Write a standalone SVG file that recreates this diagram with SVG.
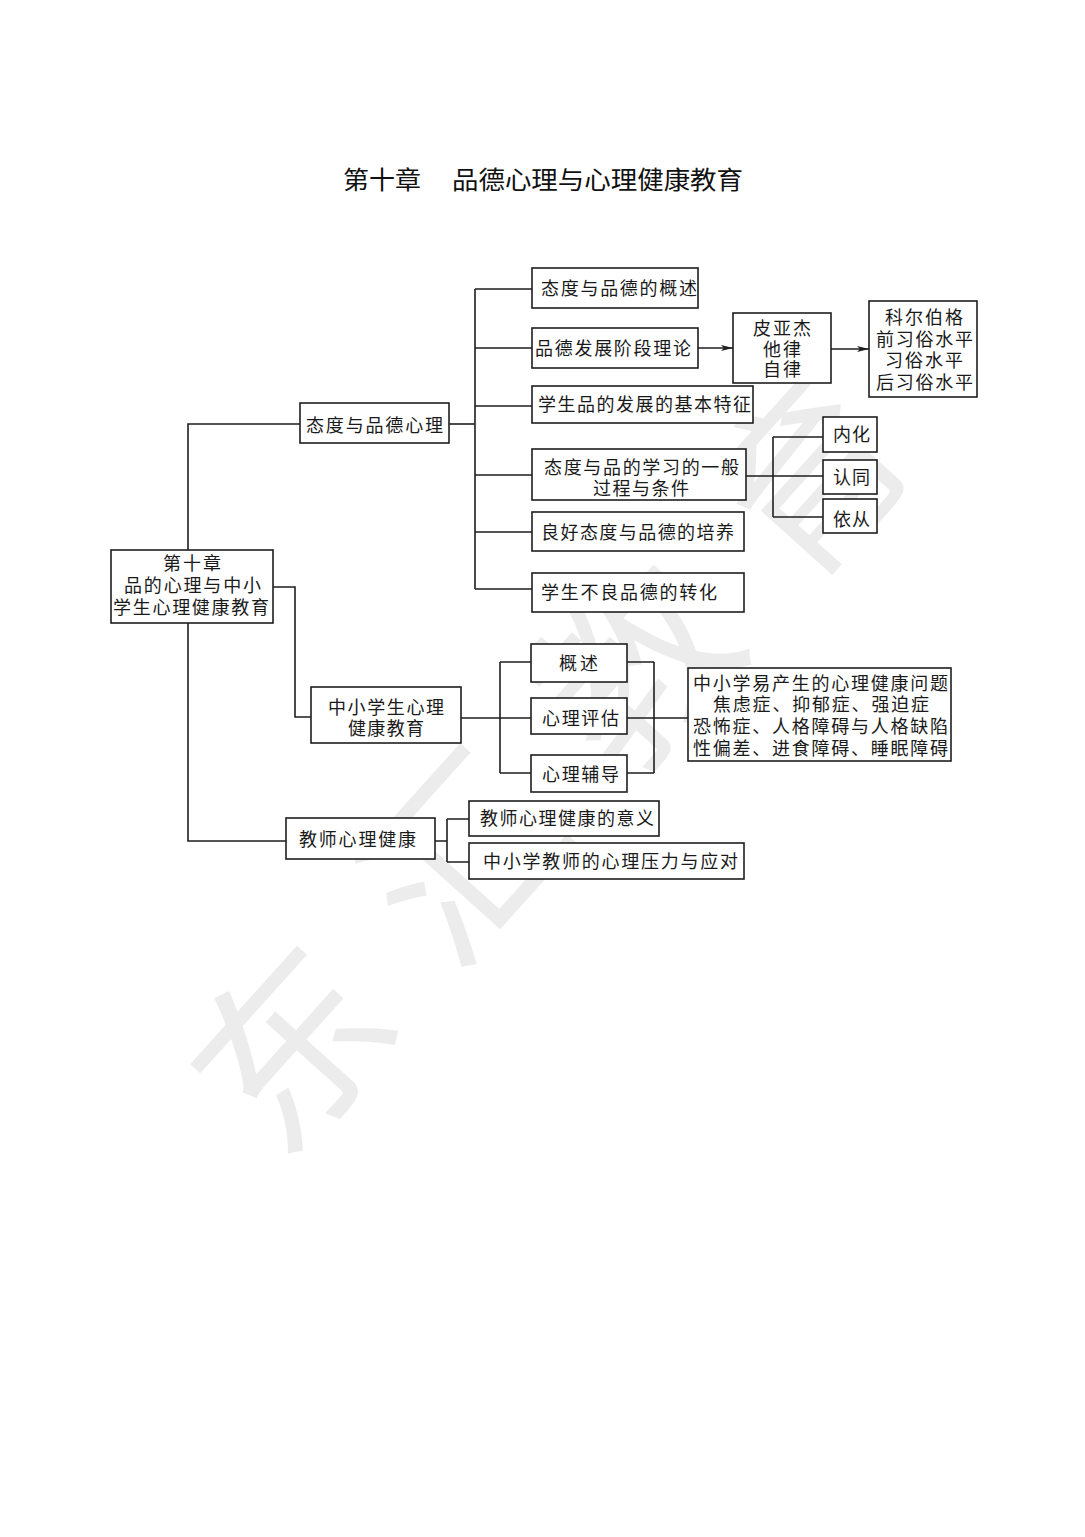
<svg xmlns="http://www.w3.org/2000/svg" width="1085" height="1537" viewBox="0 0 1085 1537">
<style>
.bg{fill:#ffffff}
.wm{font-family:"Noto Sans CJK SC","Noto Sans",sans-serif;font-size:190px;fill:#ececec}
.title{font-family:"Noto Sans CJK SC","Noto Sans",sans-serif;font-size:25px;fill:#111}
.box{fill:#ffffff;stroke:#1e1e1e;stroke-width:1.6}
.t{font-family:"Noto Sans CJK SC","Noto Sans",sans-serif;font-size:18px;fill:#1a1a1a}
.ln{fill:none;stroke:#1e1e1e;stroke-width:1.6}
</style>
<defs>
<marker id="ah" viewBox="0 0 12 6" refX="12" refY="3" markerWidth="12" markerHeight="6" markerUnits="userSpaceOnUse" orient="auto">
<path d="M0,0 L12,3 L0,6 L3,3 Z" fill="#1e1e1e"/>
</marker>
</defs>
<rect class="bg" x="0" y="0" width="1085" height="1537"/>
<g id="watermark" transform="translate(548,760) rotate(-48)">
<text class="wm" x="0" y="72" text-anchor="middle" textLength="960" lengthAdjust="spacing">东汇教育</text>
</g>
<g id="title">
<text class="title" x="343" y="189" textLength="78" lengthAdjust="spacingAndGlyphs">第十章</text>
<text class="title" x="452" y="189" textLength="291" lengthAdjust="spacingAndGlyphs">品德心理与心理健康教育</text>
</g>
<g id="connectors">
<path class="ln" d="M188 550 V424 H300"/>
<path class="ln" d="M449 424 H475"/>
<path class="ln" d="M475 289 V589"/>
<path class="ln" d="M475 289 H532 M475 348 H532 M475 406 H532 M475 475 H532 M475 532 H532 M475 589 H532"/>
<path class="ln" d="M698 348 H733" marker-end="url(#ah)"/>
<path class="ln" d="M831 349 H869" marker-end="url(#ah)"/>
<path class="ln" d="M746 476 H823 M773 437 V517 M773 437 H823 M773 517 H823"/>
<path class="ln" d="M273 587 H295 V717 H311"/>
<path class="ln" d="M188 623 V841 H286"/>
<path class="ln" d="M461 718 H531 M500 662 V773 M500 662 H531 M500 773 H531"/>
<path class="ln" d="M627 662 H654 M627 773 H654 M654 662 V773 M627 718 H688"/>
<path class="ln" d="M435 841 H447 M447 819 V862 M447 819 H469 M447 862 H469"/>
</g>
<g id="root">
<rect class="box" x="111" y="550" width="162" height="73"/>
<text class="t" x="163" y="570" textLength="58">第十章</text>
<text class="t" x="124" y="592" textLength="137">品的心理与中小</text>
<text class="t" x="113" y="614" textLength="156">学生心理健康教育</text>
</g>
<g id="n-taidu">
<rect class="box" x="300" y="403" width="149" height="40"/>
<text class="t" x="306" y="432" textLength="137">态度与品德心理</text>
</g>
<g id="n-gaishu1">
<rect class="box" x="532" y="268" width="166" height="40"/>
<text class="t" x="541" y="295" textLength="156">态度与品德的概述</text>
</g>
<g id="n-jieduan">
<rect class="box" x="532" y="328" width="166" height="40"/>
<text class="t" x="535" y="355" textLength="156">品德发展阶段理论</text>
</g>
<g id="n-piyajie">
<rect class="box" x="733" y="313" width="98" height="70"/>
<text class="t" x="753" y="335" textLength="58">皮亚杰</text>
<text class="t" x="763" y="356" textLength="38">他律</text>
<text class="t" x="763" y="376" textLength="38">自律</text>
</g>
<g id="n-keer">
<rect class="box" x="869" y="301" width="108" height="96"/>
<text class="t" x="885" y="324" textLength="78">科尔伯格</text>
<text class="t" x="876" y="346" textLength="97">前习俗水平</text>
<text class="t" x="885" y="367" textLength="78">习俗水平</text>
<text class="t" x="876" y="389" textLength="97">后习俗水平</text>
</g>
<g id="n-tezheng">
<rect class="box" x="532" y="386" width="221" height="37"/>
<text class="t" x="538" y="411" textLength="213">学生品的发展的基本特征</text>
</g>
<g id="n-xuexi">
<rect class="box" x="532" y="449" width="214" height="51"/>
<text class="t" x="544" y="474" textLength="195">态度与品的学习的一般</text>
<text class="t" x="593" y="495" textLength="96">过程与条件</text>
</g>
<g id="n-neihua">
<rect class="box" x="823" y="417" width="54" height="35"/>
<text class="t" x="833" y="441" textLength="37">内化</text>
</g>
<g id="n-rentong">
<rect class="box" x="823" y="460" width="54" height="34"/>
<text class="t" x="833" y="484" textLength="37">认同</text>
</g>
<g id="n-yicong">
<rect class="box" x="823" y="499" width="54" height="34"/>
<text class="t" x="833" y="526" textLength="37">依从</text>
</g>
<g id="n-peiyang">
<rect class="box" x="532" y="512" width="212" height="39"/>
<text class="t" x="541" y="539" textLength="193">良好态度与品德的培养</text>
</g>
<g id="n-zhuanhua">
<rect class="box" x="532" y="573" width="212" height="39"/>
<text class="t" x="541" y="599" textLength="176">学生不良品德的转化</text>
</g>
<g id="n-zhongxiao">
<rect class="box" x="311" y="687" width="150" height="56"/>
<text class="t" x="328" y="714" textLength="116">中小学生心理</text>
<text class="t" x="348" y="735" textLength="76">健康教育</text>
</g>
<g id="n-gaishu2">
<rect class="box" x="531" y="644" width="96" height="38"/>
<text class="t" x="559" y="670" textLength="39">概述</text>
</g>
<g id="n-pinggu">
<rect class="box" x="531" y="698" width="96" height="36"/>
<text class="t" x="542" y="725" textLength="77">心理评估</text>
</g>
<g id="n-fudao">
<rect class="box" x="531" y="755" width="96" height="37"/>
<text class="t" x="542" y="781" textLength="77">心理辅导</text>
</g>
<g id="n-wenti">
<rect class="box" x="688" y="668" width="263" height="93"/>
<text class="t" x="693" y="690" textLength="255">中小学易产生的心理健康问题</text>
<text class="t" x="713" y="711" textLength="216">焦虑症、抑郁症、强迫症</text>
<text class="t" x="693" y="733" textLength="255">恐怖症、人格障碍与人格缺陷</text>
<text class="t" x="693" y="755" textLength="255">性偏差、进食障碍、睡眠障碍</text>
</g>
<g id="n-jiaoshi">
<rect class="box" x="286" y="818" width="149" height="41"/>
<text class="t" x="299" y="846" textLength="117">教师心理健康</text>
</g>
<g id="n-yiyi">
<rect class="box" x="469" y="801" width="190" height="35"/>
<text class="t" x="480" y="825" textLength="174">教师心理健康的意义</text>
</g>
<g id="n-yali">
<rect class="box" x="469" y="843" width="275" height="36"/>
<text class="t" x="483" y="868" textLength="255">中小学教师的心理压力与应对</text>
</g>
</svg>
